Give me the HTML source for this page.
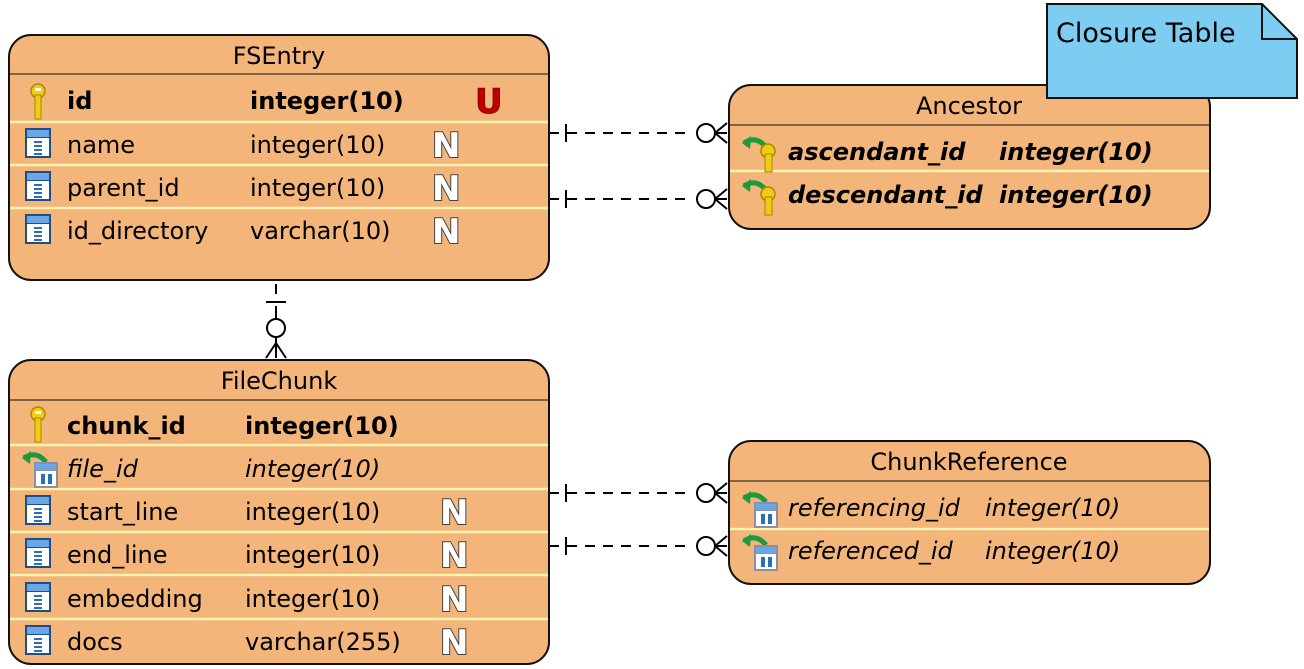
<!DOCTYPE html>
<html><head><meta charset="utf-8"><style>
html,body{margin:0;padding:0;background:#fff;}
svg{display:block;}
text{font-family:"DejaVu Sans","Liberation Sans",sans-serif;font-size:24px;fill:#000;}
.b{font-weight:bold;}
.i{font-style:italic;}
.h{font-size:24px;}
.n{font-family:"DejaVu Sans",sans-serif;font-weight:bold;font-size:34px;fill:#fff;stroke:#444;stroke-width:2;paint-order:stroke;}
</style></head><body>
<svg width="1304" height="669" viewBox="0 0 1304 669" xmlns="http://www.w3.org/2000/svg">
<defs>
  <g id="col">
    <rect x="0" y="0" width="26" height="30" fill="#1d4f85"/>
    <rect x="2" y="2" width="22" height="7" fill="#6aa7e8"/>
    <rect x="2" y="10" width="22" height="18" fill="#fff"/>
    <rect x="9" y="13" width="8" height="2" fill="#2a6fb5"/>
    <rect x="9" y="17" width="8" height="2" fill="#2a6fb5"/>
    <rect x="9" y="21" width="8" height="2" fill="#2a6fb5"/>
    <rect x="9" y="25" width="8" height="2" fill="#2a6fb5"/>
  </g>
  <g id="key">
    <circle cx="8" cy="8" r="7" fill="#f1cb12" stroke="#a88a00" stroke-width="1.5"/>
    <rect x="5" y="12" width="6" height="24" fill="#f1cb12" stroke="#a88a00" stroke-width="1"/>
    <rect x="5" y="5" width="6" height="3" fill="#fff"/>
  </g>
  <g id="fkey">
    <path d="M2 10 Q14 2 24 14" stroke="#1e9a3c" stroke-width="5" fill="none"/>
    <path d="M0 10 L9 3 L8 16 Z" fill="#1e9a3c"/>
    <circle cx="26" cy="18" r="7" fill="#f1cb12" stroke="#a88a00" stroke-width="1.5"/>
    <rect x="23" y="21" width="7" height="18" fill="#f1cb12" stroke="#a88a00"/>
  </g>
  <g id="fcol">
    <path d="M2 10 Q14 2 24 14" stroke="#1e9a3c" stroke-width="5" fill="none"/>
    <path d="M0 10 L9 3 L8 16 Z" fill="#1e9a3c"/>
    <rect x="12" y="14" width="24" height="26" fill="#8a8fa3"/>
    <rect x="14" y="16" width="20" height="6" fill="#6aa7e8"/>
    <rect x="14" y="23" width="20" height="15" fill="#fff"/>
    <rect x="19" y="26" width="4" height="10" fill="#2a6fb5"/>
    <rect x="26" y="26" width="4" height="10" fill="#2a6fb5"/>
  </g>
  <g id="crowR">
    <line x1="0" y1="0" x2="-12" y2="0" stroke="#000" stroke-width="2"/>
    <circle cx="-21" cy="0" r="9" fill="#fff" stroke="#000" stroke-width="2"/>
    <path d="M-12 0 L0 -10 M-12 0 L0 10 M-12 0 L0 0" stroke="#000" stroke-width="2" fill="none"/>
  </g>
</defs>

<g stroke="#000" stroke-width="2" fill="none">
  <line x1="549" y1="133" x2="690" y2="133" stroke-dasharray="10,8"/>
  <line x1="566" y1="124" x2="566" y2="142"/>
  <line x1="549" y1="199" x2="690" y2="199" stroke-dasharray="10,8"/>
  <line x1="566" y1="190" x2="566" y2="208"/>
  <line x1="549" y1="493" x2="690" y2="493" stroke-dasharray="10,8"/>
  <line x1="566" y1="484" x2="566" y2="502"/>
  <line x1="549" y1="546" x2="690" y2="546" stroke-dasharray="10,8"/>
  <line x1="566" y1="537" x2="566" y2="555"/>
  <line x1="276" y1="284" x2="276" y2="294"/>
  <line x1="266" y1="302" x2="286" y2="302"/>
  <line x1="276" y1="306" x2="276" y2="318"/>
  <circle cx="276" cy="328" r="9" fill="#fff"/>
  <path d="M276 337 L276 358 M276 343 L266 358 M276 343 L286 358"/>
</g>
<use href="#crowR" transform="translate(727,133)"/>
<use href="#crowR" transform="translate(727,199)"/>
<use href="#crowR" transform="translate(727,493)"/>
<use href="#crowR" transform="translate(727,546)"/>

<!-- FSEntry -->
<rect x="9" y="35" width="540" height="245" rx="22" fill="#f3b57a" stroke="#111" stroke-width="2"/>
<line x1="10" y1="74" x2="548" y2="74" stroke="#111" stroke-width="1"/>
<g stroke="#fff3b0" stroke-width="2.5"><line x1="10" y1="122" x2="548" y2="122"/><line x1="10" y1="165" x2="548" y2="165"/><line x1="10" y1="208" x2="548" y2="208"/></g>
<text x="279" y="64" text-anchor="middle" class="h">FSEntry</text>
<use href="#key" transform="translate(30,83)"/>
<text x="67" y="109" class="b">id</text><text x="250" y="109" class="b">integer(10)</text>
<text x="475" y="113" style="font-weight:bold;font-size:34px;fill:#c00000;stroke:#800;stroke-width:1">U</text>
<use href="#col" transform="translate(25,128)"/><text x="67" y="153">name</text><text x="250" y="153">integer(10)</text><text x="432" y="157" class="n">N</text>
<use href="#col" transform="translate(25,171)"/><text x="67" y="196">parent_id</text><text x="250" y="196">integer(10)</text><text x="432" y="200" class="n">N</text>
<use href="#col" transform="translate(25,214)"/><text x="67" y="239">id_directory</text><text x="250" y="239">varchar(10)</text><text x="432" y="243" class="n">N</text>

<!-- Ancestor -->
<rect x="729" y="85" width="481" height="144" rx="22" fill="#f3b57a" stroke="#111" stroke-width="2"/>
<line x1="730" y1="125" x2="1209" y2="125" stroke="#111" stroke-width="1"/>
<line x1="730" y1="171" x2="1209" y2="171" stroke="#fff3b0" stroke-width="2.5"/>
<text x="969" y="114" text-anchor="middle" class="h">Ancestor</text>
<use href="#fkey" transform="translate(742,133)"/><text x="788" y="160" class="b i">ascendant_id</text><text x="999" y="160" class="b i">integer(10)</text>
<use href="#fkey" transform="translate(742,176)"/><text x="788" y="203" class="b i">descendant_id</text><text x="999" y="203" class="b i">integer(10)</text>

<!-- Note -->
<path d="M1047 4 L1262 4 L1297 39 L1297 98 L1047 98 Z" fill="#7dcdf3" stroke="#111" stroke-width="2"/>
<path d="M1262 4 L1262 39 L1297 39" fill="none" stroke="#111" stroke-width="2"/>
<text x="1056" y="42" style="font-size:27px">Closure Table</text>

<!-- FileChunk -->
<rect x="9" y="360" width="540" height="304" rx="22" fill="#f3b57a" stroke="#111" stroke-width="2"/>
<line x1="10" y1="400" x2="548" y2="400" stroke="#111" stroke-width="1"/>
<g stroke="#fff3b0" stroke-width="2.5"><line x1="10" y1="445" x2="548" y2="445"/><line x1="10" y1="489" x2="548" y2="489"/><line x1="10" y1="532" x2="548" y2="532"/><line x1="10" y1="575" x2="548" y2="575"/><line x1="10" y1="619" x2="548" y2="619"/></g>
<text x="279" y="389" text-anchor="middle" class="h">FileChunk</text>
<use href="#key" transform="translate(30,406)"/><text x="67" y="434" class="b">chunk_id</text><text x="245" y="434" class="b">integer(10)</text>
<use href="#fcol" transform="translate(22,448)"/><text x="67" y="477" class="i">file_id</text><text x="245" y="477" class="i">integer(10)</text>
<use href="#col" transform="translate(25,495)"/><text x="67" y="520">start_line</text><text x="245" y="520">integer(10)</text><text x="440" y="524" class="n">N</text>
<use href="#col" transform="translate(25,538)"/><text x="67" y="563">end_line</text><text x="245" y="563">integer(10)</text><text x="440" y="567" class="n">N</text>
<use href="#col" transform="translate(25,582)"/><text x="67" y="607">embedding</text><text x="245" y="607">integer(10)</text><text x="440" y="611" class="n">N</text>
<use href="#col" transform="translate(25,625)"/><text x="67" y="650">docs</text><text x="245" y="650">varchar(255)</text><text x="440" y="654" class="n">N</text>

<!-- ChunkReference -->
<rect x="729" y="441" width="481" height="143" rx="22" fill="#f3b57a" stroke="#111" stroke-width="2"/>
<line x1="730" y1="481" x2="1209" y2="481" stroke="#111" stroke-width="1"/>
<line x1="730" y1="529" x2="1209" y2="529" stroke="#fff3b0" stroke-width="2.5"/>
<text x="969" y="470" text-anchor="middle" class="h">ChunkReference</text>
<use href="#fcol" transform="translate(742,488)"/><text x="788" y="516" class="i">referencing_id</text><text x="985" y="516" class="i">integer(10)</text>
<use href="#fcol" transform="translate(742,531)"/><text x="788" y="559" class="i">referenced_id</text><text x="985" y="559" class="i">integer(10)</text>
</svg>
</body></html>
